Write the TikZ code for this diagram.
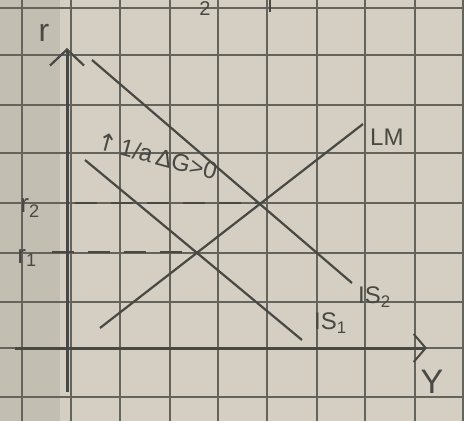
\documentclass[tikz,border=0pt]{standalone}
\usepackage{fontspec}
\setmainfont{Liberation Sans}
\newfontfamily\symfont{DejaVu Sans}
\usetikzlibrary{arrows.meta}
\definecolor{paper}{RGB}{212,207,194}
\definecolor{gridc}{RGB}{100,100,92}
\definecolor{pencil}{RGB}{72,72,68}
\begin{document}
\begin{tikzpicture}[x=1pt,y=-1pt,
  gridline/.style={gridc,line width=1.1pt},
  axisline/.style={pencil,line width=3pt},
  curve/.style={pencil,line width=2.2pt},
  guide/.style={pencil,line width=1.6pt,dash pattern=on 22pt off 14pt},
  lbl/.style={pencil,inner sep=0pt,font=\fontsize{24}{24}\selectfont},
  tip/.style={-{Straight Barb[length=16pt,width=34pt,line width=2.2pt]}}]
\fill[paper] (0,0) rectangle (464,421);
\useasboundingbox (0,0) rectangle (464,421);
\fill[black,opacity=0.08] (0,0) rectangle (60,421);
% grid
\foreach \gx in {22,71,120,170,218,267,317,365,415,463}
  \draw[gridline] (\gx,0) -- (\gx,421);
\foreach \gy in {8,55,105,153,203,253,302,348,397}
  \draw[gridline] (0,\gy) -- (464,\gy);
% axes
\coordinate (ybot) at (67,392);
\coordinate (ytop) at (67,48);
\coordinate (xleft) at (15,348);
\coordinate (xright) at (427,348);
\draw[axisline,tip] (ybot) -- (ytop);
\draw[axisline,-{Straight Barb[length=12pt,width=28pt,line width=2pt]}] (xleft) -- (xright);
% curves
\coordinate (is2a) at (92,60);
\coordinate (is2b) at (352,283);
\coordinate (is1a) at (85,160);
\coordinate (is1b) at (302,340);
\coordinate (lma) at (100,328);
\coordinate (lmb) at (363,124);
\draw[curve] (is2a) -- (is2b);
\draw[curve] (is1a) -- (is1b);
\draw[curve] (lma) -- (lmb);
% equilibria
\coordinate (e2) at (262,203);
\coordinate (e1) at (196,252);
\coordinate (g2) at (75,203);
\coordinate (g1) at (52,252);
\draw[guide] (g2) -- (e2);
\draw[guide] (g1) -- (e1);
% labels
\node[lbl,font=\fontsize{32}{32}\selectfont] (rlab) at (44,33) {r};
\node[lbl,font=\fontsize{26}{26}\selectfont] (r2lab) at (30,208) {r\textsubscript{2}};
\node[lbl,font=\fontsize{26}{26}\selectfont] (r1lab) at (27,258) {r\textsubscript{1}};
\node[lbl,font=\fontsize{34}{34}\selectfont] (ylab) at (432,382) {Y};
\node[lbl,anchor=west] (lmlab) at (370,137) {LM};
\node[lbl,anchor=west] (is2lab) at (358,297) {IS\textsubscript{2}};
\node[lbl,anchor=west] (is1lab) at (314,323) {IS\textsubscript{1}};
\node[lbl,font=\fontsize{24}{24}\selectfont,rotate=-15] (shift) at (157,156) {{\symfont↑}\,1/a\,ΔG>0};
\node[lbl,font=\fontsize{20}{20}\selectfont,anchor=north] (topfrag) at (205,1) {2};
\draw[pencil,line width=1.6pt] (270,0) -- (270,12);
\end{tikzpicture}
\end{document}
